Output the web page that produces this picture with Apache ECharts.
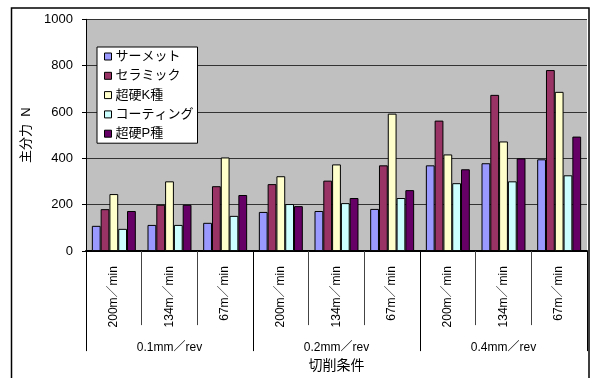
<!DOCTYPE html>
<html>
<head>
<meta charset="utf-8">
<script src="https://cdn.jsdelivr.net/npm/echarts@6/dist/echarts.min.js"></script>
<style>
  html, body { margin: 0; padding: 0; background: #fff; }
  #chart { width: 590px; height: 378px; }
</style>
</head>
<body>
<div id="chart"></div>
<script>
// Cutting speed (inner level) and feed rate (outer level) of the test conditions
const speeds = ['200m／min', '134m／min', '67m／min', '200m／min', '134m／min', '67m／min', '200m／min', '134m／min', '67m／min'];
const feeds = ['0.1mm／rev', '0.2mm／rev', '0.4mm／rev'];

// Principal cutting force [N] per tool material
const seriesNames = ['サーメット', 'セラミック', '超硬K種', 'コーティング', '超硬P種'];
const cermet   = [109, 113, 122, 169, 173, 182, 370, 379, 396];
const ceramic  = [181, 200, 280, 289, 304, 370, 563, 674, 781];
const carbideK = [246, 301, 404, 323, 374, 593, 417, 473, 687];
const coating  = [96, 113, 152, 203, 207, 229, 293, 301, 327];
const carbideP = [173, 200, 242, 194, 229, 263, 353, 400, 494];

const yTicks = [0, 200, 400, 600, 800, 1000];

const FONT = "'Liberation Sans', 'Noto Sans CJK JP', sans-serif";
const colors = ['#9999FF', '#993366', '#FFFFCC', '#CCFFFF', '#660066'];
const values = [cermet, ceramic, carbideK, coating, carbideP];

const chart = echarts.init(document.getElementById('chart'), null, { renderer: 'canvas' });

chart.setOption({
  animation: false,
  backgroundColor: '#fff',
  textStyle: { fontFamily: FONT, color: '#000' },
  graphic: [{
    type: 'rect',
    shape: { x: 11.5, y: 8, width: 577.5, height: 400 },
    style: { fill: 'none', stroke: '#000', lineWidth: 1.5 },
    silent: true,
    z: 100
  }],
  grid: {
    left: 86, top: 19.3, width: 501, height: 233.4,
    show: true, backgroundColor: '#C0C0C0', borderWidth: 0
  },
  legend: {
    orient: 'vertical',
    left: 97, top: 47,
    padding: [2, 4, 2, 7],
    itemGap: 4.3,
    itemWidth: 7, itemHeight: 7,
    icon: 'rect',
    backgroundColor: '#fff',
    borderColor: '#000', borderWidth: 1,
    itemStyle: { borderColor: '#000', borderWidth: 1 },
    textStyle: { fontFamily: FONT, fontSize: 13, color: '#000', lineHeight: 15, padding: [0, 0, 0, -1] },
    data: seriesNames
  },
  xAxis: [{
    type: 'category',
    gridIndex: 0,
    position: 'bottom',
    data: speeds,
    axisLine: { show: true, lineStyle: { color: '#000', width: 2 } },
    axisTick: { show: true, interval: 0, length: 74, lineStyle: { color: '#444', width: 1 } },
    axisLabel: { interval: 0, rotate: 90, margin: 15, fontSize: 12, fontFamily: FONT, color: '#000' },
    splitLine: { show: false }
  }, {
    type: 'category',
    gridIndex: 0,
    position: 'bottom',
    data: feeds,
    axisLine: { show: false },
    axisTick: { show: true, interval: 0, length: 100, lineStyle: { color: '#000', width: 1 } },
    axisLabel: { interval: 0, margin: 91, fontSize: 12, fontFamily: FONT, color: '#000' },
    name: '切削条件',
    nameLocation: 'middle',
    nameGap: 106,
    nameTextStyle: { fontSize: 14, fontFamily: FONT, color: '#000' },
    splitLine: { show: false }
  }],
  yAxis: {
    type: 'value',
    min: yTicks[0], max: yTicks[yTicks.length - 1], interval: 200,
    axisLine: { show: true, lineStyle: { color: '#000', width: 1 } },
    axisTick: { show: true, length: 4, lineStyle: { color: '#000' } },
    axisLabel: { margin: 13, fontSize: 13, fontFamily: FONT, color: '#000', formatter: v => String(v) },
    splitLine: { show: true, lineStyle: { color: '#333', width: 1 } },
    name: '主分力  N',
    nameLocation: 'middle',
    nameGap: 41,
    nameTextStyle: { fontSize: 13, fontFamily: FONT, color: '#000' }
  },
  series: seriesNames.map((name, i) => ({
    name,
    type: 'bar',
    xAxisIndex: 0,
    data: values[i],
    barGap: '0%',
    barCategoryGap: '21%',
    itemStyle: { color: colors[i], borderColor: '#000', borderWidth: 1 }
  }))
});
</script>
</body>
</html>
